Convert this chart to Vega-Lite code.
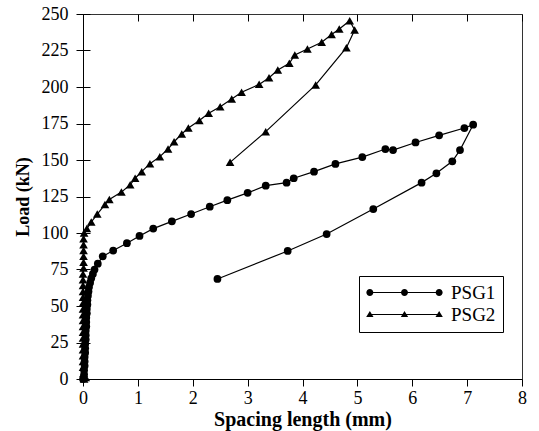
{
  "$schema": "https://vega.github.io/schema/vega-lite/v6.json",
  "width": 439,
  "height": 365,
  "autosize": {"type": "none"},
  "padding": {"left": 83, "top": 14, "right": 17, "bottom": 52},
  "background": "white",
  "config": {
    "font": "Liberation Serif",
    "view": {"stroke": "#333", "strokeWidth": 1},
    "axis": {
      "domainColor": "black", "domainWidth": 1,
      "tickColor": "black", "tickSize": 7, "tickWidth": 1,
      "labelFont": "Liberation Serif", "labelFontSize": 18, "labelColor": "black", "labelFlush": false, "labelOverlap": false,
      "titleFont": "Liberation Serif", "titleFontWeight": "bold", "titleColor": "black",
      "grid": true, "gridColor": "black", "gridDash": [7, 3000], "gridWidth": 1, "gridOpacity": 1
    }
  },
  "data": {
    "values": [
      {"series": "PSG1", "i": 0, "x": 0, "y": 0},
      {"series": "PSG1", "i": 1, "x": 0.02, "y": 3},
      {"series": "PSG1", "i": 2, "x": 0.02, "y": 6},
      {"series": "PSG1", "i": 3, "x": 0.03, "y": 9},
      {"series": "PSG1", "i": 4, "x": 0.03, "y": 12},
      {"series": "PSG1", "i": 5, "x": 0.03, "y": 15},
      {"series": "PSG1", "i": 6, "x": 0.04, "y": 18},
      {"series": "PSG1", "i": 7, "x": 0.04, "y": 21},
      {"series": "PSG1", "i": 8, "x": 0.04, "y": 24},
      {"series": "PSG1", "i": 9, "x": 0.05, "y": 27},
      {"series": "PSG1", "i": 10, "x": 0.05, "y": 30},
      {"series": "PSG1", "i": 11, "x": 0.05, "y": 33},
      {"series": "PSG1", "i": 12, "x": 0.06, "y": 36},
      {"series": "PSG1", "i": 13, "x": 0.06, "y": 39},
      {"series": "PSG1", "i": 14, "x": 0.06, "y": 42},
      {"series": "PSG1", "i": 15, "x": 0.07, "y": 45},
      {"series": "PSG1", "i": 16, "x": 0.07, "y": 48},
      {"series": "PSG1", "i": 17, "x": 0.08, "y": 51},
      {"series": "PSG1", "i": 18, "x": 0.08, "y": 54},
      {"series": "PSG1", "i": 19, "x": 0.09, "y": 57},
      {"series": "PSG1", "i": 20, "x": 0.1, "y": 60},
      {"series": "PSG1", "i": 21, "x": 0.11, "y": 63},
      {"series": "PSG1", "i": 22, "x": 0.13, "y": 66},
      {"series": "PSG1", "i": 23, "x": 0.15, "y": 69},
      {"series": "PSG1", "i": 24, "x": 0.18, "y": 72},
      {"series": "PSG1", "i": 25, "x": 0.21, "y": 75},
      {"series": "PSG1", "i": 26, "x": 0.27, "y": 79},
      {"series": "PSG1", "i": 27, "x": 0.36, "y": 84},
      {"series": "PSG1", "i": 28, "x": 0.55, "y": 88},
      {"series": "PSG1", "i": 29, "x": 0.8, "y": 93},
      {"series": "PSG1", "i": 30, "x": 1.03, "y": 98},
      {"series": "PSG1", "i": 31, "x": 1.28, "y": 103},
      {"series": "PSG1", "i": 32, "x": 1.62, "y": 108},
      {"series": "PSG1", "i": 33, "x": 1.97, "y": 113},
      {"series": "PSG1", "i": 34, "x": 2.31, "y": 118},
      {"series": "PSG1", "i": 35, "x": 2.63, "y": 122.5},
      {"series": "PSG1", "i": 36, "x": 3.0, "y": 127.5},
      {"series": "PSG1", "i": 37, "x": 3.33, "y": 132.4},
      {"series": "PSG1", "i": 38, "x": 3.71, "y": 134.5},
      {"series": "PSG1", "i": 39, "x": 3.84, "y": 137.5},
      {"series": "PSG1", "i": 40, "x": 4.21, "y": 142},
      {"series": "PSG1", "i": 41, "x": 4.6, "y": 147.3},
      {"series": "PSG1", "i": 42, "x": 5.09, "y": 152},
      {"series": "PSG1", "i": 43, "x": 5.51, "y": 157.5},
      {"series": "PSG1", "i": 44, "x": 5.65, "y": 156.8},
      {"series": "PSG1", "i": 45, "x": 6.06, "y": 162},
      {"series": "PSG1", "i": 46, "x": 6.49, "y": 166.9},
      {"series": "PSG1", "i": 47, "x": 6.95, "y": 171.9},
      {"series": "PSG1", "i": 48, "x": 7.11, "y": 174.2},
      {"series": "PSG1", "i": 49, "x": 6.87, "y": 156.8},
      {"series": "PSG1", "i": 50, "x": 6.73, "y": 149.1},
      {"series": "PSG1", "i": 51, "x": 6.44, "y": 140.9},
      {"series": "PSG1", "i": 52, "x": 6.17, "y": 134.5},
      {"series": "PSG1", "i": 53, "x": 5.29, "y": 116.4},
      {"series": "PSG1", "i": 54, "x": 4.44, "y": 99.3},
      {"series": "PSG1", "i": 55, "x": 3.73, "y": 87.7},
      {"series": "PSG1", "i": 56, "x": 2.45, "y": 68.5},
      {"series": "PSG2", "i": 0, "x": 0.02, "y": 0},
      {"series": "PSG2", "i": 1, "x": 0.05, "y": 1},
      {"series": "PSG2", "i": 2, "x": 0.01, "y": 4},
      {"series": "PSG2", "i": 3, "x": 0, "y": 8},
      {"series": "PSG2", "i": 4, "x": 0, "y": 12},
      {"series": "PSG2", "i": 5, "x": 0, "y": 16},
      {"series": "PSG2", "i": 6, "x": 0, "y": 20},
      {"series": "PSG2", "i": 7, "x": 0, "y": 24},
      {"series": "PSG2", "i": 8, "x": 0, "y": 28},
      {"series": "PSG2", "i": 9, "x": 0, "y": 32},
      {"series": "PSG2", "i": 10, "x": 0, "y": 36},
      {"series": "PSG2", "i": 11, "x": 0, "y": 40},
      {"series": "PSG2", "i": 12, "x": 0, "y": 44},
      {"series": "PSG2", "i": 13, "x": 0, "y": 48},
      {"series": "PSG2", "i": 14, "x": 0, "y": 52},
      {"series": "PSG2", "i": 15, "x": 0, "y": 56},
      {"series": "PSG2", "i": 16, "x": 0, "y": 60},
      {"series": "PSG2", "i": 17, "x": 0, "y": 64},
      {"series": "PSG2", "i": 18, "x": 0, "y": 68},
      {"series": "PSG2", "i": 19, "x": 0, "y": 72},
      {"series": "PSG2", "i": 20, "x": 0.01, "y": 76},
      {"series": "PSG2", "i": 21, "x": 0.01, "y": 80},
      {"series": "PSG2", "i": 22, "x": 0.01, "y": 84},
      {"series": "PSG2", "i": 23, "x": 0.01, "y": 88},
      {"series": "PSG2", "i": 24, "x": 0.01, "y": 92},
      {"series": "PSG2", "i": 25, "x": 0.01, "y": 96},
      {"series": "PSG2", "i": 26, "x": 0.02, "y": 100},
      {"series": "PSG2", "i": 27, "x": 0.07, "y": 103},
      {"series": "PSG2", "i": 28, "x": 0.15, "y": 107.5},
      {"series": "PSG2", "i": 29, "x": 0.26, "y": 113},
      {"series": "PSG2", "i": 30, "x": 0.4, "y": 119.5},
      {"series": "PSG2", "i": 31, "x": 0.48, "y": 123},
      {"series": "PSG2", "i": 32, "x": 0.7, "y": 128},
      {"series": "PSG2", "i": 33, "x": 0.86, "y": 133},
      {"series": "PSG2", "i": 34, "x": 0.95, "y": 137.5},
      {"series": "PSG2", "i": 35, "x": 1.07, "y": 142},
      {"series": "PSG2", "i": 36, "x": 1.22, "y": 147.5},
      {"series": "PSG2", "i": 37, "x": 1.4, "y": 152.3},
      {"series": "PSG2", "i": 38, "x": 1.55, "y": 157.5},
      {"series": "PSG2", "i": 39, "x": 1.66, "y": 162.5},
      {"series": "PSG2", "i": 40, "x": 1.8, "y": 167.8},
      {"series": "PSG2", "i": 41, "x": 1.92, "y": 172},
      {"series": "PSG2", "i": 42, "x": 2.12, "y": 177},
      {"series": "PSG2", "i": 43, "x": 2.29, "y": 182},
      {"series": "PSG2", "i": 44, "x": 2.5, "y": 186.5},
      {"series": "PSG2", "i": 45, "x": 2.71, "y": 191.8},
      {"series": "PSG2", "i": 46, "x": 2.89, "y": 196.4},
      {"series": "PSG2", "i": 47, "x": 3.21, "y": 201.8},
      {"series": "PSG2", "i": 48, "x": 3.39, "y": 206.4},
      {"series": "PSG2", "i": 49, "x": 3.55, "y": 211.6},
      {"series": "PSG2", "i": 50, "x": 3.76, "y": 216.2},
      {"series": "PSG2", "i": 51, "x": 3.86, "y": 221.9},
      {"series": "PSG2", "i": 52, "x": 4.09, "y": 226},
      {"series": "PSG2", "i": 53, "x": 4.35, "y": 230.6},
      {"series": "PSG2", "i": 54, "x": 4.53, "y": 236},
      {"series": "PSG2", "i": 55, "x": 4.67, "y": 239.7},
      {"series": "PSG2", "i": 56, "x": 4.86, "y": 245.4},
      {"series": "PSG2", "i": 57, "x": 4.95, "y": 239},
      {"series": "PSG2", "i": 58, "x": 4.8, "y": 226.9},
      {"series": "PSG2", "i": 59, "x": 4.24, "y": 201.4},
      {"series": "PSG2", "i": 60, "x": 3.33, "y": 169.4},
      {"series": "PSG2", "i": 61, "x": 2.68, "y": 148.4}
    ]
  },
  "encoding": {
    "x": {"field": "x", "type": "quantitative", "scale": {"domain": [0, 8], "nice": false},
      "axis": {"values": [0, 1, 2, 3, 4, 5, 6, 7, 8], "title": "Spacing length (mm)", "titleFontSize": 20, "labelPadding": 3, "titlePadding": 2, "labelOverlap": false}},
    "y": {"field": "y", "type": "quantitative", "scale": {"domain": [0, 250], "nice": false},
      "axis": {"values": [0, 25, 50, 75, 100, 125, 150, 175, 200, 225, 250], "title": "Load (kN)", "titleFontSize": 18, "labelPadding": 8, "titlePadding": 9, "labelOverlap": false, "labelSeparation": 0}}
  },
  "layer": [
    {
      "mark": {"type": "line", "color": "black", "strokeWidth": 1.2},
      "encoding": {
        "detail": {"field": "series", "type": "nominal"},
        "order": {"field": "i", "type": "quantitative"}
      }
    },
    {
      "mark": {"type": "point", "filled": true, "color": "black", "opacity": 1},
      "encoding": {
        "shape": {"field": "series", "type": "nominal", "scale": {"domain": ["PSG1", "PSG2"], "range": ["circle", "triangle-up"]}, "legend": null},
        "size": {"field": "series", "type": "nominal", "scale": {"domain": ["PSG1", "PSG2"], "range": [60, 75]}, "legend": null}
      }
    },
    {
      "data": {"values": []},
      "mark": {"type": "point", "filled": true, "fill": "black", "opacity": 1},
      "encoding": {
        "shape": {
          "field": "series", "type": "nominal",
          "scale": {"domain": ["PSG1", "PSG2"], "range": [
            "M-9.9,-0.17L9.9,-0.17L9.9,0.17L-9.9,0.17ZM-8.9,0A1,1,0,1,1,-10.9,0A1,1,0,1,1,-8.9,0ZM1,0A1,1,0,1,1,-1,0A1,1,0,1,1,1,0ZM10.9,0A1,1,0,1,1,8.9,0A1,1,0,1,1,10.9,0Z",
            "M-9.9,-0.17L9.9,-0.17L9.9,0.17L-9.9,0.17ZM-9.9,-1L-8.85,0.7L-10.95,0.7ZM0,-1L1.05,0.7L-1.05,0.7ZM9.9,-1L10.95,0.7L8.85,0.7Z"
          ]},
          "legend": {
            "title": null, "orient": "none", "legendX": 276, "legendY": 262,
            "strokeColor": "black", "fillColor": "white", "padding": 7,
            "symbolSize": 49, "symbolOffset": 29, "labelOffset": 37,
            "symbolFillColor": "black", "symbolStrokeWidth": 0, "symbolOpacity": 1,
            "labelFont": "Liberation Serif", "labelFontSize": 19, "labelColor": "black", "rowPadding": 2,
            "encode": {"symbols": {"update": {"fill": {"value": "black"}, "opacity": {"value": 1}}}}
          }
        }
      }
    }
  ],
  "resolve": {"scale": {"shape": "independent", "size": "independent"}}
}
